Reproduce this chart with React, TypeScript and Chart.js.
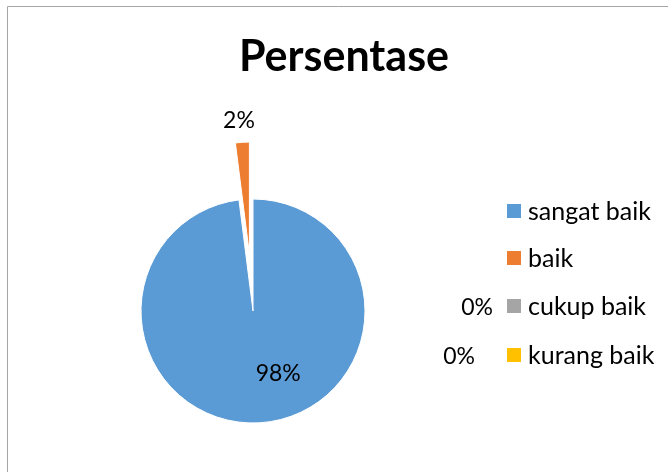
import React, { useEffect, useRef } from 'react';
import { Chart, registerables } from 'chart.js';

Chart.register(...registerables);

const TITLE = 'Persentase';
const categories = ['sangat baik', 'baik', 'cukup baik', 'kurang baik'];
const values = [98, 2, 0, 0];
const colors = ['#5B9BD5', '#ED7D31', '#A5A5A5', '#FFC000'];
// pixel distance each slice is pulled out of the pie
const explode = [0, 57, 0, 0];

const FONT = 'Lato, "Open Sans", "Liberation Sans", sans-serif';
const PIE_RADIUS = 112;

// Pull slices out of the pie by translating the library's own arc drawing.
const explodePlugin = {
  id: 'explodeSlices',
  afterDatasetUpdate(chart: any, args: any) {
    const meta = chart.getDatasetMeta(args.index);
    meta.data.forEach((arc: any, i: number) => {
      const t = explode[i] || 0;
      if (!t || arc.__exploded) return;
      const orig = arc.draw;
      arc.draw = function (ctx: CanvasRenderingContext2D, area: any) {
        const mid = (this.startAngle + this.endAngle) / 2;
        ctx.save();
        ctx.translate(Math.cos(mid) * t, Math.sin(mid) * t);
        orig.call(this, ctx, area);
        ctx.restore();
      };
      arc.__exploded = true;
    });
  },
};

const decorPlugin = {
  id: 'decor',
  afterDraw(chart: any) {
    const ctx = chart.ctx as CanvasRenderingContext2D;
    const meta = chart.getDatasetMeta(0);
    const total = values.reduce((a, b) => a + b, 0);
    ctx.save();
    // frame
    ctx.strokeStyle = '#a6a6a6';
    ctx.lineWidth = 1;
    ctx.beginPath();
    ctx.moveTo(7.5, 480);
    ctx.lineTo(7.5, 6.5);
    ctx.lineTo(700, 6.5);
    ctx.stroke();

    // title
    ctx.fillStyle = '#000';
    ctx.font = `bold 43px ${FONT}`;
    ctx.textAlign = 'center';
    ctx.textBaseline = 'alphabetic';
    ctx.fillText(TITLE, 344, 71);

    // legend
    const legX = 507;
    const rowY = [211, 258, 306, 355];
    ctx.font = `25px ${FONT}`;
    ctx.textAlign = 'left';
    ctx.textBaseline = 'middle';
    categories.forEach((c, i) => {
      ctx.fillStyle = colors[i];
      ctx.fillRect(legX, rowY[i] - 7, 14, 14);
      ctx.fillStyle = '#000';
      ctx.fillText(c, legX + 21, rowY[i] + 1);
    });

    // data labels
    ctx.font = `23px ${FONT}`;
    ctx.fillStyle = '#000';
    ctx.textBaseline = 'middle';
    const zeroGap: Record<number, number> = { 2: 14, 3: 32 };
    const insideShift: Record<number, [number, number]> = { 0: [21, -4] };
    meta.data.forEach((arc: any, i: number) => {
      const v = values[i];
      const txt = Math.round((v / total) * 100) + '%';
      if (v === 0) {
        ctx.textAlign = 'right';
        ctx.fillText(txt, legX - zeroGap[i], rowY[i] + 2);
        return;
      }
      const { x, y, startAngle, endAngle, outerRadius } = arc.getProps(
        ['x', 'y', 'startAngle', 'endAngle', 'outerRadius'],
        true
      );
      const mid = (startAngle + endAngle) / 2;
      ctx.textAlign = 'center';
      if (explode[i] > 0) {
        const r = outerRadius + explode[i] + 22;
        ctx.fillText(txt, x + Math.cos(mid) * r - 2, y + Math.sin(mid) * r);
      } else {
        const r = outerRadius * 0.6;
        const s = insideShift[i] || [0, 0];
        ctx.fillText(txt, x + Math.cos(mid) * r + s[0], y + Math.sin(mid) * r + s[1]);
      }
    });
    ctx.restore();
  },
};

export default function App() {
  const ref = useRef<HTMLCanvasElement | null>(null);
  useEffect(() => {
    if (!ref.current) return;
    const chart = new Chart(ref.current, {
      type: 'pie',
      data: {
        labels: categories,
        datasets: [
          {
            data: values,
            backgroundColor: colors,
            borderColor: '#ffffff',
            borderWidth: 1,
          } as any,
        ],
      },
      options: {
        responsive: false,
        animation: false,
        radius: PIE_RADIUS,
        layout: { padding: { left: 100, right: 262, top: 180, bottom: 30 } },
        plugins: {
          legend: { display: false },
          title: { display: false },
          tooltip: { enabled: false },
        },
      } as any,
      plugins: [explodePlugin, decorPlugin],
    });
    return () => chart.destroy();
  }, []);
  return (
    <div style={{ position: 'absolute', left: 0, top: 0, width: 668, height: 472, background: '#fff' }}>
      <canvas ref={ref} width={668} height={472} style={{ width: 668, height: 472, display: 'block' }} />
    </div>
  );
}
